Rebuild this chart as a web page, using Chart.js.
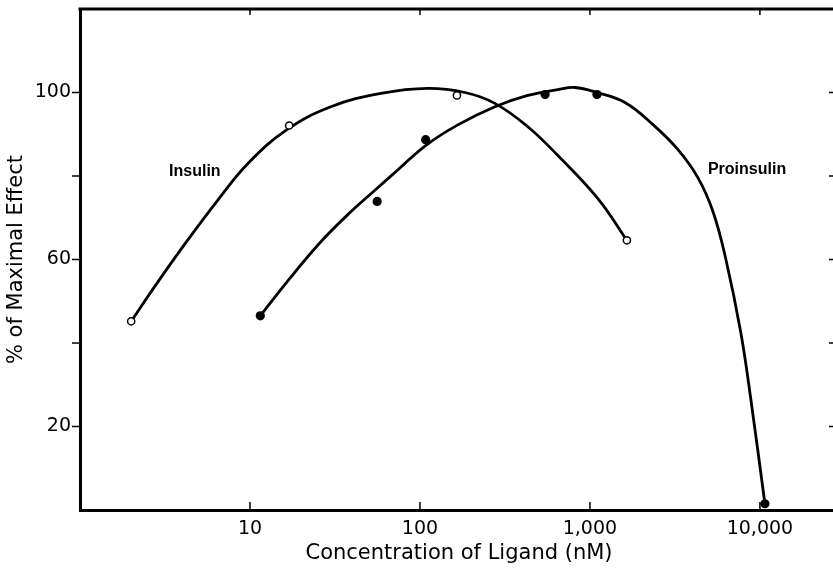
<!DOCTYPE html>
<html><head><meta charset="utf-8">
<script src="https://cdn.jsdelivr.net/npm/chart.js@4"></script>
<style>html,body{margin:0;padding:0;background:#fff;overflow:hidden}
#wrap{position:relative;width:846px;height:570px}</style></head>
<body><div id="wrap"><canvas id="c"></canvas></div>
<script>
// Measured points
const insulinConc = [2, 17, 165, 1650];
const insulinEffect = [45.2, 92.1, 99.3, 64.6];
const proinsulinConc = [11.5, 56, 108, 545, 1100, 10700];
const proinsulinEffect = [46.5, 73.9, 88.7, 99.5, 99.5, 1.5];
// Fitted curves
const insulinCurveConc = [2, 2.88, 4.31, 6.49, 9.73, 16.5, 29.9, 59, 111, 184, 276, 431, 648, 1114, 1650];
const insulinCurveEffect = [45.2, 54.7, 64.7, 74.3, 83.0, 91.1, 96.6, 99.8, 101, 100, 97.4, 91.8, 84.9, 74.6, 64.6];
const proinsulinCurveConc = [11.5, 16.7, 26.2, 38.2, 55.8, 74.3, 108, 168, 276, 431, 648, 817, 1099, 1607, 2350, 3296, 4315, 5294, 6310, 7727, 8851, 10700];
const proinsulinCurveEffect = [46.5, 54.9, 64.3, 71.0, 77.0, 81.5, 87.3, 92.3, 96.6, 99.3, 100.7, 101.2, 100.0, 97.6, 92.3, 86.3, 79.6, 71.5, 60.0, 42.4, 26.4, 1.5];
// Ticks and labels
const xTickValues = [10, 100, 1000, 10000];
const xTickLabels = ['10', '100', '1,000', '10,000'];
const yTickValues = [20, 40, 60, 80, 100];
const yLabelValues = [20, 60, 100];
const curveLabels = ['Insulin', 'Proinsulin'];
const curveLabelConc = [4.74, 8400];
const curveLabelEffect = [81, 81.5];

const pts = (xs, ys) => xs.map((v, i) => ({x: v, y: ys[i]}));

const frame = {
  id: 'frame',
  afterDraw(chart) {
    const {ctx, chartArea: a, scales: {x, y}} = chart;
    ctx.save();
    ctx.strokeStyle = '#000';
    ctx.lineWidth = 3;
    ctx.beginPath();
    ctx.moveTo(a.left - 1.5, a.top);
    ctx.lineTo(a.right, a.top);
    ctx.lineTo(a.right, a.bottom);
    ctx.stroke();
    ctx.lineWidth = 1.5;
    ctx.beginPath();
    yTickValues.forEach(v => {
      const py = y.getPixelForValue(v);
      ctx.moveTo(a.left - 8, py); ctx.lineTo(a.left, py);
      ctx.moveTo(a.right, py); ctx.lineTo(a.right - 9, py);
    });
    xTickValues.forEach(v => {
      const px = x.getPixelForValue(v);
      ctx.moveTo(px, a.bottom); ctx.lineTo(px, a.bottom - 8);
      ctx.moveTo(px, a.top); ctx.lineTo(px, a.top + 6);
    });
    ctx.stroke();
    ctx.fillStyle = '#000';
    ctx.font = 'bold 16px "Liberation Sans"';
    ctx.textAlign = 'center';
    ctx.textBaseline = 'middle';
    curveLabels.forEach((t, i) => {
      ctx.fillText(t, x.getPixelForValue(curveLabelConc[i]), y.getPixelForValue(curveLabelEffect[i]));
    });
    ctx.restore();
  }
};

Chart.defaults.font.family = '"DejaVu Sans"';
Chart.defaults.color = '#000';

new Chart(document.getElementById('c'), {
  type: 'scatter',
  data: {
    datasets: [
      {label: 'Insulin points', data: pts(insulinConc, insulinEffect), pointRadius: 3.6, pointBorderWidth: 1.5,
       pointBackgroundColor: '#fff', pointBorderColor: '#000', showLine: false},
      {label: 'Proinsulin points', data: pts(proinsulinConc, proinsulinEffect), pointRadius: 4.6, pointBorderWidth: 0,
       pointBackgroundColor: '#000', pointBorderColor: '#000', showLine: false},
      {label: 'Insulin curve', data: pts(insulinCurveConc, insulinCurveEffect), showLine: true, pointRadius: 0,
       borderColor: '#000', borderWidth: 2.8, tension: 0.4, fill: false},
      {label: 'Proinsulin curve', data: pts(proinsulinCurveConc, proinsulinCurveEffect), showLine: true, pointRadius: 0,
       borderColor: '#000', borderWidth: 2.8, tension: 0.4, fill: false}
    ]
  },
  options: {
    responsive: true,
    maintainAspectRatio: false,
    animation: false,
    layout: {padding: {top: 9, right: 8, left: 0, bottom: 0}},
    plugins: {legend: {display: false}, tooltip: {enabled: false}},
    scales: {
      x: {
        type: 'logarithmic', min: 1, max: 28800,
        grid: {display: false, drawTicks: false},
        border: {display: true, width: 3, color: '#000'},
        afterBuildTicks: s => { s.ticks = xTickValues.map(v => ({value: v})); },
        afterFit: s => { s.height = 60; s.paddingLeft = 0; s.paddingRight = 0; },
        ticks: {padding: 8, font: {size: 19}, maxRotation: 0, autoSkip: false,
          callback: (v, i) => xTickLabels[i]},
        title: {display: true, text: 'Concentration of Ligand (nM)', font: {size: 21}, padding: {top: 0, bottom: 4}}
      },
      y: {
        min: 0, max: 120,
        grid: {display: false, drawTicks: false},
        border: {display: true, width: 3, color: '#000'},
        afterFit: s => { s.width = 80; s.paddingTop = 0; s.paddingBottom = 0; },
        ticks: {stepSize: 20, padding: 9, font: {size: 19},
          callback: v => yLabelValues.includes(v) ? String(v) : ''},
        title: {display: true, text: '% of Maximal Effect', font: {size: 21}, padding: {top: 4, bottom: 0}}
      }
    }
  },
  plugins: [frame]
});
</script>
</body></html>
